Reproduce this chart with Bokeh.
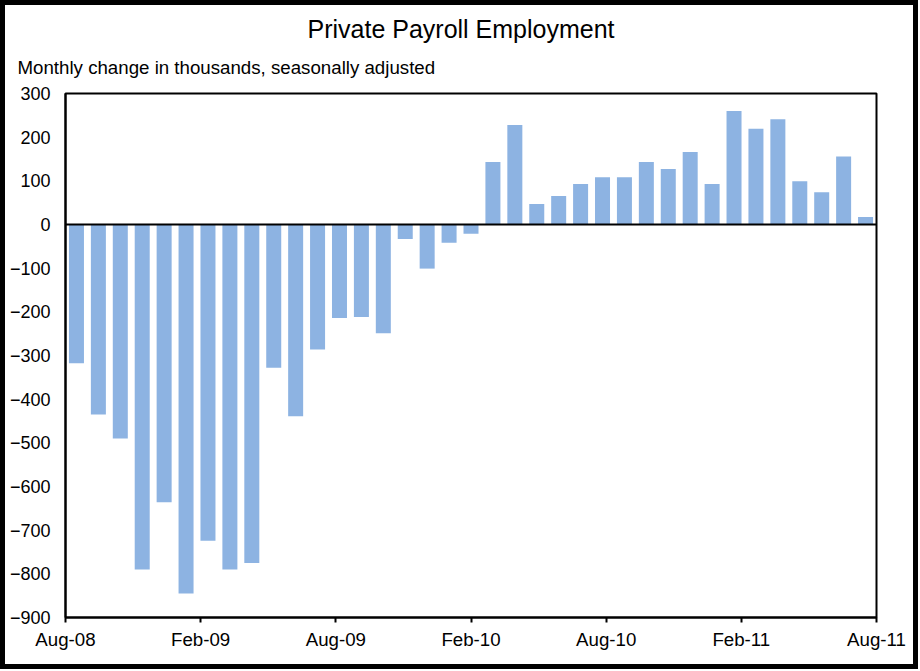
from bokeh.plotting import figure
from bokeh.models import ColumnDataSource, FixedTicker, Span, Title, Range1d
from bokeh.embed import file_html
from bokeh.resources import INLINE

# ---- data (monthly change in private payrolls, thousands) ----
months = ["Aug-08", "Sep-08", "Oct-08", "Nov-08", "Dec-08", "Jan-09", "Feb-09", "Mar-09",
          "Apr-09", "May-09", "Jun-09", "Jul-09", "Aug-09", "Sep-09", "Oct-09", "Nov-09",
          "Dec-09", "Jan-10", "Feb-10", "Mar-10", "Apr-10", "May-10", "Jun-10", "Jul-10",
          "Aug-10", "Sep-10", "Oct-10", "Nov-10", "Dec-10", "Jan-11", "Feb-11", "Mar-11",
          "Apr-11", "May-11", "Jun-11", "Jul-11", "Aug-11"]
changes = [-318, -435, -490, -790, -636, -845, -724, -790, -775, -328, -439, -286,
           -214, -212, -249, -33, -101, -42, -21, 143, 228, 47, 65, 93, 108, 108,
           143, 127, 166, 93, 260, 219, 241, 99, 74, 156, 17]
tick_labels = ["Aug-08", "Feb-09", "Aug-09", "Feb-10", "Aug-10", "Feb-11", "Aug-11"]
tick_months = [0, 6, 12, 18, 24, 30, 36]
y_ticks = list(range(-900, 301, 100))

# bars spread evenly over the 36-month date axis (37 slots)
n = len(changes)
span_months = tick_months[-1] - tick_months[0]
xs = [(i + 0.5) * span_months / n for i in range(n)]
src = ColumnDataSource(dict(x=xs, top=changes, month=months))

FONT = "Liberation Sans"
W, H = 918, 669
p = figure(width=W, height=H, output_backend="svg", toolbar_location=None,
           x_range=Range1d(0, 36), y_range=Range1d(-900, 300),
           min_border_left=60, min_border_right=47, min_border_top=88, min_border_bottom=57)
p.styles = {"border": "5px solid black"}
p.background_fill_color = "white"
p.border_fill_color = "white"
p.outline_line_color = "black"
p.outline_line_width = 2
p.xgrid.visible = False
p.ygrid.visible = False

p.vbar(x="x", top="top", bottom=0, width=0.666, source=src,
       fill_color="#8DB3E2", line_color=None)

p.add_layout(Span(location=0, dimension="width", line_color="black", line_width=2))

xa = p.xaxis[0]
xa.ticker = FixedTicker(ticks=tick_months)
xa.major_label_overrides = {t: l for t, l in zip(tick_months, tick_labels)}
xa.axis_line_width = 2
xa.major_tick_in = 0
xa.major_tick_out = 5
xa.major_tick_line_width = 2
xa.minor_tick_line_color = None
xa.major_label_standoff = 6
xa.major_label_text_font = FONT
xa.major_label_text_font_size = "18.7px"
xa.major_label_text_color = "black"

ya = p.yaxis[0]
ya.ticker = FixedTicker(ticks=y_ticks)
ya.axis_line_width = 2
ya.major_tick_in = 0
ya.major_tick_out = 0
ya.minor_tick_line_color = None
ya.major_label_standoff = 15
ya.major_label_text_font = FONT
ya.major_label_text_font_size = "18px"
ya.major_label_text_color = "black"

subtitle = Title(text="Monthly change in thousands, seasonally adjusted", align="left",
                 offset=-48, standoff=32, text_font=FONT, text_font_size="18.7px",
                 text_font_style="normal", text_color="black")
title = Title(text="Private Payroll Employment", align="left", offset=242, standoff=-8,
              text_font=FONT, text_font_size="25px", text_font_style="normal",
              text_color="black")
p.add_layout(subtitle, "above")
p.add_layout(title, "above")

open("out.html", "w").write(file_html(p, INLINE))
